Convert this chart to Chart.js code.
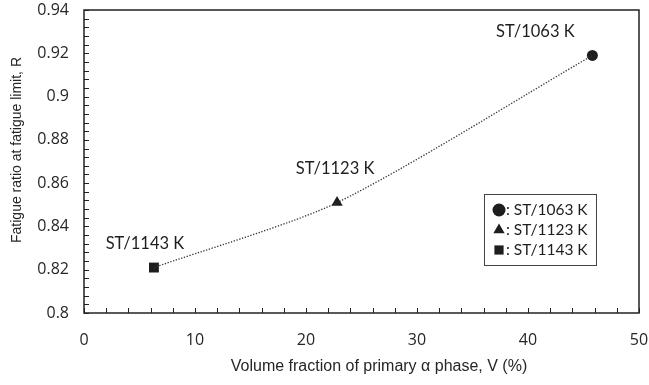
<!DOCTYPE html>
<html>
<head>
<meta charset="utf-8">
<script src="https://cdn.jsdelivr.net/npm/chart.js@4.4.0/dist/chart.umd.min.js"></script>
<style>
  html, body { margin: 0; padding: 0; background: #fff; }
  #wrap { width: 649px; height: 385px; }
</style>
</head>
<body>
<div id="wrap"><canvas id="chart" width="649" height="385"></canvas></div>
<script>
// solution-treatment conditions and measured values
const conditions = ["ST/1063 K", "ST/1123 K", "ST/1143 K"];
const alphaFraction = [45.8, 22.8, 6.3];
const fatigueRatio = [0.919, 0.851, 0.821];
const markers = ["circle", "triangle", "rect"];
const markerSizes = [5.5, 6.5, 7];

const xTicks = [0, 10, 20, 30, 40, 50];
const yTicks = [0.8, 0.82, 0.84, 0.86, 0.88, 0.9, 0.92, 0.94];

const ink = "#1e1e1e";
const xTitle = "Volume fraction of primary α phase, V (%)";
const yTitle = "Fatigue ratio at fatigue limit, R";

const scatterSets = conditions.map((c, i) => ({
  type: "scatter",
  label: c,
  data: [{ x: alphaFraction[i], y: fatigueRatio[i] }],
  pointStyle: markers[i],
  pointRadius: markerSizes[i],
  pointBackgroundColor: ink,
  pointBorderColor: ink,
  pointBorderWidth: 0,
}));

// dotted trend curve running through the three points
const trendPts = alphaFraction.map((x, i) => ({ x: x, y: fatigueRatio[i] })).sort((a, b) => a.x - b.x);
const trendSet = {
  type: "line",
  label: "trend",
  data: trendPts,
  borderColor: "#333",
  borderWidth: 1.3,
  borderDash: [1.3, 1.6],
  pointRadius: 0,
  tension: 0.25,
  fill: false,
};

function drawMarker(ctx, style, x, y, r) {
  ctx.beginPath();
  if (style === "circle") {
    ctx.arc(x, y, r, 0, Math.PI * 2);
  } else if (style === "triangle") {
    ctx.moveTo(x, y - r);
    ctx.lineTo(x + r * 0.87, y + r * 0.5);
    ctx.lineTo(x - r * 0.87, y + r * 0.5);
    ctx.closePath();
  } else {
    const s = r * Math.SQRT1_2;
    ctx.rect(x - s, y - s, s * 2, s * 2);
  }
  ctx.fill();
}

const framePlugin = {
  id: "frame",
  afterDatasetsDraw(chart) {
    const { ctx, chartArea: a, scales } = chart;
    const xs = scales.x, ys = scales.y;
    ctx.save();
    ctx.strokeStyle = "#222";
    ctx.lineWidth = 1.5;
    ctx.strokeRect(a.left, a.top, a.right - a.left, a.bottom - a.top);

    // inward tick marks, minor every fifth of a major step
    ctx.lineWidth = 1;
    for (let v = 0; v <= 50.001; v += 2) {
      const px = Math.round(xs.getPixelForValue(v)) + 0.5;
      ctx.beginPath();
      ctx.moveTo(px, a.bottom);
      ctx.lineTo(px, a.bottom - 5);
      ctx.stroke();
    }
    for (let v = 0.8; v <= 0.9401; v += 0.004) {
      const py = Math.round(ys.getPixelForValue(v)) + 0.5;
      ctx.beginPath();
      ctx.moveTo(a.left, py);
      ctx.lineTo(a.left + 5, py);
      ctx.stroke();
    }

    // axis titles, both a little off the axis centre
    ctx.fillStyle = "#262626";
    ctx.textAlign = "center";
    ctx.textBaseline = "middle";
    ctx.font = "16px 'Liberation Sans', Arial, sans-serif";
    ctx.fillText(xTitle, 379, 367);
    ctx.font = "14px 'Liberation Sans', Arial, sans-serif";
    ctx.save();
    ctx.translate(17, 150);
    ctx.rotate(-Math.PI / 2);
    ctx.fillText(yTitle, 0, 0);
    ctx.restore();

    // condition labels above each point
    ctx.fillStyle = ink;
    ctx.font = "16.5px Lato, 'Open Sans', sans-serif";
    const offsets = [[-57, -24], [-2, -34], [-9, -24]];
    conditions.forEach((c, i) => {
      const px = xs.getPixelForValue(alphaFraction[i]);
      const py = ys.getPixelForValue(fatigueRatio[i]);
      ctx.fillText(c, px + offsets[i][0], py + offsets[i][1]);
    });

    // legend box
    const bx = 484, by = 194, bw = 112, bh = 71;
    ctx.fillStyle = "#fff";
    ctx.fillRect(bx, by, bw, bh);
    ctx.strokeStyle = "#444";
    ctx.lineWidth = 1;
    ctx.strokeRect(bx + 0.5, by + 0.5, bw, bh);
    ctx.textAlign = "left";
    ctx.font = "15.5px Lato, 'Open Sans', sans-serif";
    conditions.forEach((c, i) => {
      const ly = by + 16 + i * 20;
      ctx.fillStyle = ink;
      drawMarker(ctx, markers[i], bx + 15, ly, 6.5);
      ctx.fillText(": " + c, bx + 22, ly);
    });
    ctx.restore();
  },
};

new Chart(document.getElementById("chart"), {
  data: { datasets: [trendSet, ...scatterSets] },
  options: {
    responsive: false,
    animation: false,
    layout: { padding: { top: 10, right: 10, left: 0, bottom: 0 } },
    plugins: { legend: { display: false }, tooltip: { enabled: false } },
    scales: {
      x: {
        type: "linear",
        min: 0,
        max: 50,
        afterBuildTicks: (s) => { s.ticks = xTicks.map(v => ({ value: v })); },
        grid: { display: false, drawTicks: false },
        border: { display: false },
        ticks: { color: "#262626", font: { family: "'Open Sans'", size: 16 }, padding: 18 },
        afterFit: (s) => {
          s.height = 72;
          s.paddingLeft = 0;
          s.paddingRight = 0;
        },
      },
      y: {
        type: "linear",
        min: 0.8,
        max: 0.94,
        afterBuildTicks: (s) => { s.ticks = yTicks.map(v => ({ value: v })); },
        grid: { display: false, drawTicks: false },
        border: { display: false },
        ticks: {
          color: "#262626",
          font: { family: "'Open Sans'", size: 16 },
          padding: 15,
          callback: (v) => String(+v.toFixed(2)),
        },
        afterFit: (s) => {
          s.width = 84;
          s.paddingTop = 0;
          s.paddingBottom = 0;
        },
      },
    },
  },
  plugins: [framePlugin],
});
</script>
</body>
</html>
